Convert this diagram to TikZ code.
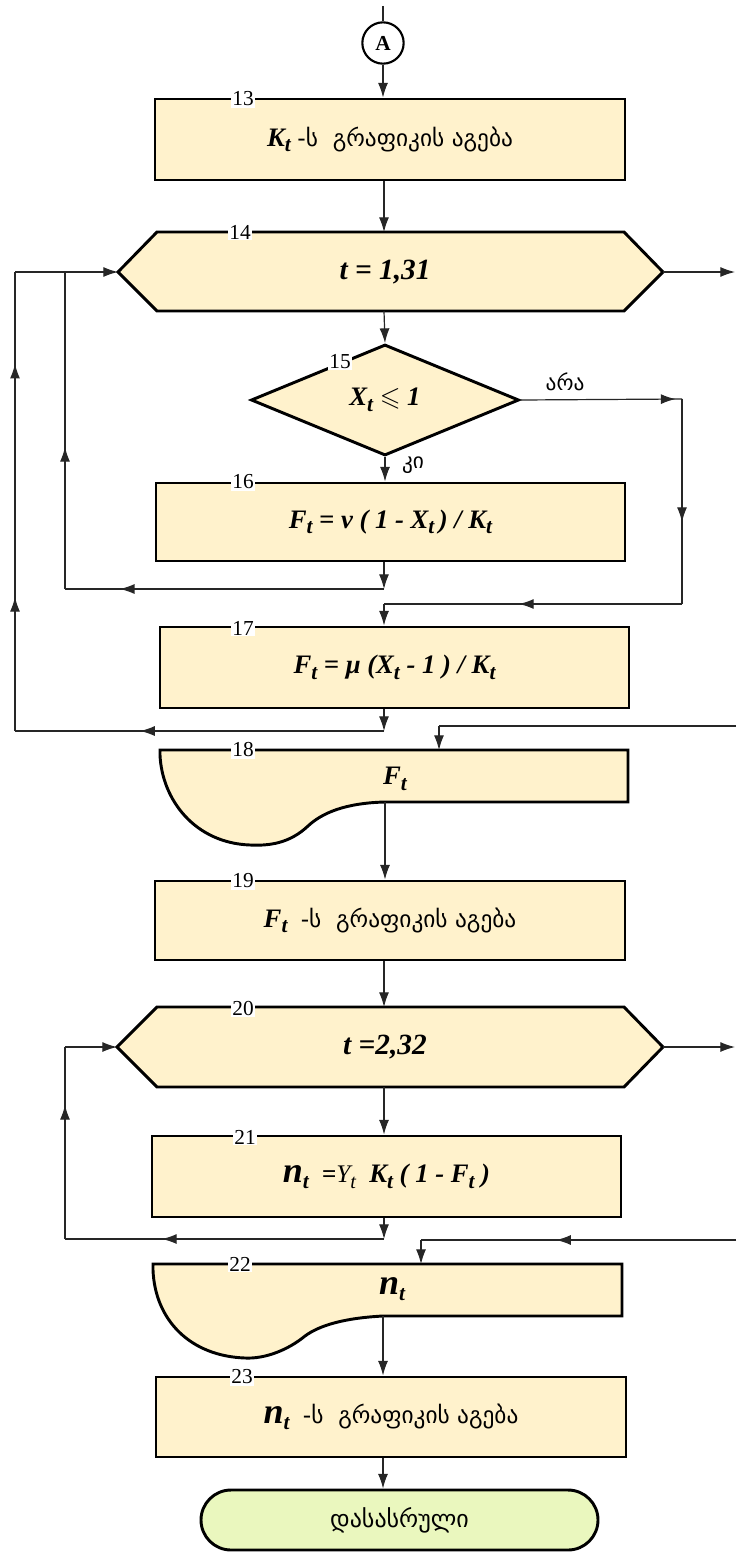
\documentclass[tikz,border=0pt]{standalone}
\usepackage{amssymb}
\usepackage{graphicx}
\usepackage{fontspec}
\setmainfont{Liberation Serif}
\newfontfamily\geo{DejaVu Sans}
\usetikzlibrary{arrows.meta,shapes.geometric,decorations.markings}
\definecolor{cream}{HTML}{FFF2CC}
\definecolor{lgreen}{HTML}{EAF7BE}
\newcommand\sbt[1]{\raisebox{-0.45ex}{\scalebox{0.8}{#1}}}
\newcommand\mth[1]{{\bfseries\itshape #1}}
\newcommand\bign{{\fontsize{27}{27}\selectfont\bfseries\itshape n}}
\begin{document}
\begin{tikzpicture}[x=0.75pt,y=-0.75pt,
  >={Latex[length=11pt,width=7.5pt]},
  conn/.style={line width=0.9pt,draw=black!85},
  midarr/.style={postaction={decorate,decoration={markings,mark=at position #1 with {\arrow{>}}}}},
  box/.style={draw,line width=2.2pt,fill=cream,inner sep=0pt,font=\fontsize{20}{24}\selectfont},
  shapeline/.style={draw,line width=2.2pt,fill=cream},
  txt/.style={inner sep=0pt,font=\fontsize{20}{24}\selectfont},
  num/.style={fill=white,inner sep=1pt,font=\fontsize{16}{16}\selectfont},
  lbl/.style={inner sep=0pt,font=\geo\fontsize{16}{16}\selectfont}]
\useasboundingbox (0,0) rectangle (736,1552);

% ---------- shapes ----------
\node[draw,circle,line width=1.6pt,minimum size=31pt,inner sep=0pt,fill=white,font=\fontsize{16}{16}\selectfont\bfseries] (A) at (383,43) {A};
\coordinate (topin) at (383,6);

\node[box,minimum width=352.5pt,minimum height=60.75pt] (b13) at (390,139.5)
  {\mth{K\sbt{t}} {\geo\fontsize{17.5}{20}\selectfont -ს \ გრაფიკის აგება}};

% hexagon 14
\coordinate (h14W) at (118,272); \coordinate (h14E) at (663,272);
\coordinate (h14N) at (384,232); \coordinate (h14S) at (384,311);
\draw[shapeline] (h14W) -- (157,232) -- (624,232) -- (h14E) -- (624,311) -- (157,311) -- cycle;
\node[txt,font=\fontsize{22}{24}\selectfont] (h14) at (385,272) {\mth{t = 1,31}};

% diamond 15
\node[diamond,draw,line width=2.2pt,fill=cream,inner sep=0pt,minimum width=201pt,minimum height=83.25pt,aspect=2.4,font=\fontsize{20}{24}\selectfont] (d15) at (385,400)
  {\mth{X\sbt{t}} $\leqslant$ \mth{1}};

\node[box,minimum width=351.75pt,minimum height=58.5pt] (b16) at (390.5,522)
  {\mth{F\sbt{t} = ν ( 1 - X\sbt{t}\,) / K\sbt{t}}};

\node[box,minimum width=351.75pt,minimum height=60.75pt] (b17) at (394.5,667.5)
  {\mth{F\sbt{t} = μ (X\sbt{t} - 1 ) / K\sbt{t}}};

% document 18
\draw[shapeline] (160,750) -- (628,750) -- (628,802) -- (385,802)
  .. controls (345,803) and (322,813) .. (308,826)
  .. controls (290,843) and (270,846) .. (250,845)
  .. controls (195,843) and (162,800) .. (160,755) -- cycle;
\coordinate (d18N) at (439,750); \coordinate (d18S) at (385,802);
\node[txt] (d18) at (395,779) {\mth{F\sbt{t}}};

\node[box,minimum width=352.5pt,minimum height=59.25pt] (b19) at (390,920.5)
  {\mth{F\sbt{t}} \ {\geo\fontsize{17.5}{20}\selectfont -ს \ გრაფიკის აგება}};

% hexagon 20
\coordinate (h20W) at (117,1047); \coordinate (h20E) at (663,1047);
\coordinate (h20N) at (384,1007); \coordinate (h20S) at (384,1087);
\draw[shapeline] (h20W) -- (157,1007) -- (624,1007) -- (h20E) -- (624,1087) -- (157,1087) -- cycle;
\node[txt,font=\fontsize{22}{24}\selectfont] (h20) at (385,1047) {\mth{t =2,32}};

\node[box,minimum width=351.75pt,minimum height=60.75pt] (b21) at (386.5,1176.5)
  {\bign\mth{\sbt{t}} {\fontsize{19}{19}\selectfont\mth{ =}\itshape Y\sbt{t}} \ \mth{K\sbt{t} ( 1 - F\sbt{t} )}};

% document 22
\draw[shapeline] (153,1264) -- (622,1264) -- (622,1316) -- (383,1316)
  .. controls (345,1318) and (320,1325) .. (305,1336)
  .. controls (288,1350) and (265,1359) .. (245,1358)
  .. controls (190,1356) and (155,1320) .. (153,1270) -- cycle;
\coordinate (d22N) at (421,1264); \coordinate (d22S) at (383,1316);
\node[txt] (d22) at (392,1289) {\bign\mth{\sbt{t}}};

\node[box,minimum width=352.5pt,minimum height=60pt] (b23) at (391,1417)
  {\bign\mth{\sbt{t}} \ {\geo\fontsize{17.5}{20}\selectfont -ს \ გრაფიკის აგება}};

\node[draw,line width=2.2pt,fill=lgreen,rounded corners=22.5pt,minimum width=297.75pt,minimum height=45pt,font=\geo\fontsize{18}{20}\selectfont] (term) at (399.5,1520) {დასასრული};

% ---------- number labels ----------
\node[num] (n13) at (243,99) {13};
\node[num] (n14) at (240,232) {14};
\node[num] (n15) at (340,362) {15};
\node[num] (n16) at (243,482) {16};
\node[num] (n17) at (243,628) {17};
\node[num] (n18) at (243,750) {18};
\node[num] (n19) at (243,881) {19};
\node[num] (n20) at (243,1008) {20};
\node[num] (n21) at (245,1137) {21};
\node[num] (n22) at (240,1264) {22};
\node[num] (n23) at (242,1377) {23};

\node[lbl] (no) at (565,382) {არა};
\node[lbl] (yes) at (413,465) {კი};

% ---------- connector coordinates ----------
\coordinate (out14) at (735,272);
\coordinate (out20) at (735,1047);
\coordinate (noR) at (682,399);
\coordinate (noB) at (682,604);
\coordinate (noJ) at (384,604);
\coordinate (j16) at (384,589);
\coordinate (L16) at (65,589);
\coordinate (L1T) at (65,272);
\coordinate (j17) at (384,731);
\coordinate (L17) at (15,731);
\coordinate (L2T) at (15,272);
\coordinate (in18) at (736,726);
\coordinate (in18c) at (439,726);
\coordinate (j21) at (384,1239);
\coordinate (L21) at (65,1239);
\coordinate (in22) at (736,1240);
\coordinate (in22c) at (421,1240);

% ---------- connectors ----------
\draw[conn] (topin) -- (A);
\draw[conn,->] (A) -- (A |- b13.north);
\draw[conn,->] (b13.south -| h14N) -- (h14N);
\draw[conn,->] (h14E) -- (out14);
\draw[conn,->] (h14S) -- (d15.north);
\draw[conn,midarr=0.96] (d15.east) -- (noR);
\draw[conn,midarr=0.60] (noR) -- (noB);
\draw[conn,midarr=0.547] (noB) -- (noJ);
\draw[conn,->] (noJ) -- (noJ |- b17.north);
\draw[conn,->] (d15.south) -- (d15.south |- b16.north);
\draw[conn,->] (b16.south -| j16) -- (j16);
\draw[conn,midarr=0.828] (j16) -- (L16);
\draw[conn,midarr=0.448] (L16) -- (L1T);
\draw[conn,->] (L2T) -- (h14W);
\draw[conn,->] (b17.south -| j17) -- (j17);
\draw[conn,midarr=0.661] (j17) -- (L17);
\draw[conn,midarr=0.292,midarr=0.80] (L17) -- (L2T);
\draw[conn] (in18) -- (in18c);
\draw[conn,->] (in18c) -- (d18N);
\draw[conn,->] (d18S) -- (d18S |- b19.north);
\draw[conn,->] (b19.south -| h20N) -- (h20N);
\draw[conn,->] (h20E) -- (out20);
\draw[conn,->] (h20S) -- (h20S |- b21.north);
\draw[conn,->] (b21.south -| j21) -- (j21);
\draw[conn,midarr=0.696] (j21) -- (L21);
\draw[conn,midarr=0.698] (L21) -- (h20W -| L21);
\draw[conn,->] (h20W -| L21) -- (h20W);
\draw[conn,midarr=0.571] (in22) -- (in22c);
\draw[conn,->] (in22c) -- (d22N);
\draw[conn,->] (d22S) -- (d22S |- b23.north);
\draw[conn,->] (b23.south -| d22S) -- (d22S |- term.north);
\end{tikzpicture}
\end{document}
